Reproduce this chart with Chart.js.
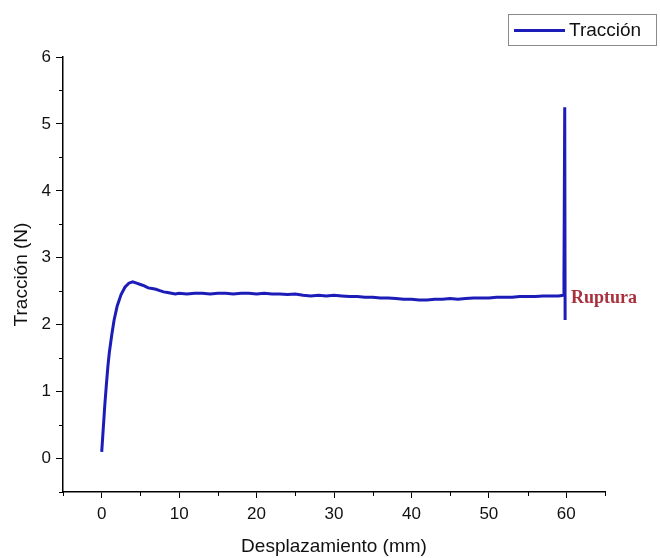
<!DOCTYPE html>
<html>
<head>
<meta charset="utf-8">
<script src="https://cdn.jsdelivr.net/npm/chart.js@4/dist/chart.umd.min.js"></script>
<style>
html,body{margin:0;padding:0;background:#fff;}
#wrap{position:relative;width:660px;height:558px;}
</style>
</head>
<body>
<div id="wrap"><canvas id="c" width="660" height="558"></canvas></div>
<script>
const seriesLabel = 'Tracción';
const xTitle = 'Desplazamiento (mm)';
const yTitle = 'Tracción (N)';
const annotationText = 'Ruptura';

const desplazamiento = [0, 0.2, 0.4, 0.6, 0.8, 1.0, 1.3, 1.6, 2.0, 2.5, 3.0, 3.5, 4.0, 4.5, 5.0, 5.5, 6.0, 6.5, 7.0, 7.5, 8, 8.5, 9, 9.5, 10,
  11, 12, 13, 14, 15, 16, 17, 18, 19, 20, 21, 22, 23, 24, 25, 26, 27, 28, 29, 30,
  31, 32, 33, 34, 35, 36, 37, 38, 39, 40, 41, 42, 43, 44, 45, 46, 47, 48, 49, 50,
  51, 52, 53, 54, 55, 56, 57, 58, 59, 59.6, 59.7, 59.8, 59.85];
const traccion = [0.1, 0.45, 0.8, 1.1, 1.38, 1.6, 1.85, 2.07, 2.28, 2.45, 2.56, 2.62, 2.64, 2.62, 2.6, 2.58, 2.55, 2.54, 2.53, 2.51, 2.49, 2.48, 2.47, 2.46, 2.47,
  2.46, 2.47, 2.47, 2.46, 2.47, 2.47, 2.46, 2.47, 2.47, 2.46, 2.47, 2.46, 2.46, 2.45, 2.46, 2.44, 2.43, 2.44, 2.43, 2.44,
  2.43, 2.42, 2.42, 2.41, 2.41, 2.40, 2.40, 2.39, 2.38, 2.38, 2.37, 2.37, 2.38, 2.38, 2.39, 2.38, 2.39, 2.40, 2.40, 2.40,
  2.41, 2.41, 2.41, 2.42, 2.42, 2.42, 2.43, 2.43, 2.43, 2.44, 2.72, 5.25, 2.07];
const rupturaPoint = [60.6, 2.40];

const xTickValues = [0, 10, 20, 30, 40, 50, 60];
const yTickValues = [0, 1, 2, 3, 4, 5, 6];
const xMinorValues = [-5, 5, 15, 25, 35, 45, 55, 65];
const yMinorValues = [-0.5, 0.5, 1.5, 2.5, 3.5, 4.5, 5.5];
const xMin = -5, xMax = 65;
const yMin = -0.5, yMax = 6;

const lineColor = '#1c1cb8';
const FONT = '"Liberation Sans", Arial, sans-serif';

const points = desplazamiento.map((x, i) => ({x: x, y: traccion[i]}));

const extras = {
  id: 'extras',
  afterDraw(chart) {
    const ctx = chart.ctx;
    const xs = chart.scales.x, ys = chart.scales.y;
    ctx.save();
    ctx.strokeStyle = '#000';
    ctx.lineWidth = 1;
    xMinorValues.forEach(v => {
      const px = Math.round(xs.getPixelForValue(v)) + 0.5;
      ctx.beginPath(); ctx.moveTo(px, xs.top); ctx.lineTo(px, xs.top + 4); ctx.stroke();
    });
    yMinorValues.forEach(v => {
      const py = Math.round(ys.getPixelForValue(v)) + 0.5;
      ctx.beginPath(); ctx.moveTo(ys.right, py); ctx.lineTo(ys.right - 4, py); ctx.stroke();
    });
    // annotation
    ctx.fillStyle = '#a8303c';
    ctx.font = 'bold 18px "Liberation Serif", "Times New Roman", serif';
    ctx.textBaseline = 'middle';
    ctx.textAlign = 'left';
    ctx.fillText(annotationText, xs.getPixelForValue(rupturaPoint[0]), ys.getPixelForValue(rupturaPoint[1]));
    // legend
    const bx = 508, by = 14, bw = 148, bh = 31;
    ctx.strokeStyle = '#8a8a8a';
    ctx.lineWidth = 1;
    ctx.strokeRect(bx + 0.5, by + 0.5, bw, bh);
    ctx.strokeStyle = lineColor;
    ctx.lineWidth = 3;
    ctx.beginPath(); ctx.moveTo(bx + 6, by + bh / 2 + 1); ctx.lineTo(bx + 57, by + bh / 2 + 1); ctx.stroke();
    ctx.fillStyle = '#111';
    ctx.font = '19px ' + FONT;
    ctx.fillText(chart.data.datasets[0].label, bx + 61, by + bh / 2 + 1);
    ctx.restore();
  }
};

new Chart(document.getElementById('c'), {
  type: 'line',
  data: {
    datasets: [{
      label: seriesLabel,
      data: points,
      borderColor: lineColor,
      borderWidth: 3,
      pointRadius: 0,
      tension: 0,
      fill: false
    }]
  },
  options: {
    responsive: false,
    animation: false,
    devicePixelRatio: 1,
    layout: {padding: {left: 0, top: 57, right: 55, bottom: 0}},
    plugins: {legend: {display: false}, tooltip: {enabled: false}},
    scales: {
      x: {
        type: 'linear', min: xMin, max: xMax,
        afterBuildTicks(s) { s.ticks = xTickValues.map(v => ({value: v})); },
        afterFit(s) { s.height = 66; },
        border: {display: true, color: '#000', width: 1.5},
        grid: {display: true, drawOnChartArea: false, drawTicks: true, tickLength: 6, color: '#000', tickColor: '#000'},
        ticks: {color: '#111', padding: 6, font: {family: FONT, size: 17}},
        title: {display: true, text: xTitle, color: '#111', font: {family: FONT, size: 19}, padding: {top: 0, bottom: 0}}
      },
      y: {
        type: 'linear', min: yMin, max: yMax,
        afterBuildTicks(s) { s.ticks = yTickValues.map(v => ({value: v})); },
        afterFit(s) { s.width = 63; },
        border: {display: true, color: '#000', width: 1.5},
        grid: {display: true, drawOnChartArea: false, drawTicks: true, tickLength: 7, color: '#000', tickColor: '#000'},
        ticks: {color: '#111', padding: 5, font: {family: FONT, size: 17}},
        title: {display: true, text: yTitle, color: '#111', font: {family: FONT, size: 19}, padding: {top: 10, bottom: 0}}
      }
    }
  },
  plugins: [extras]
});
</script>
</body>
</html>
